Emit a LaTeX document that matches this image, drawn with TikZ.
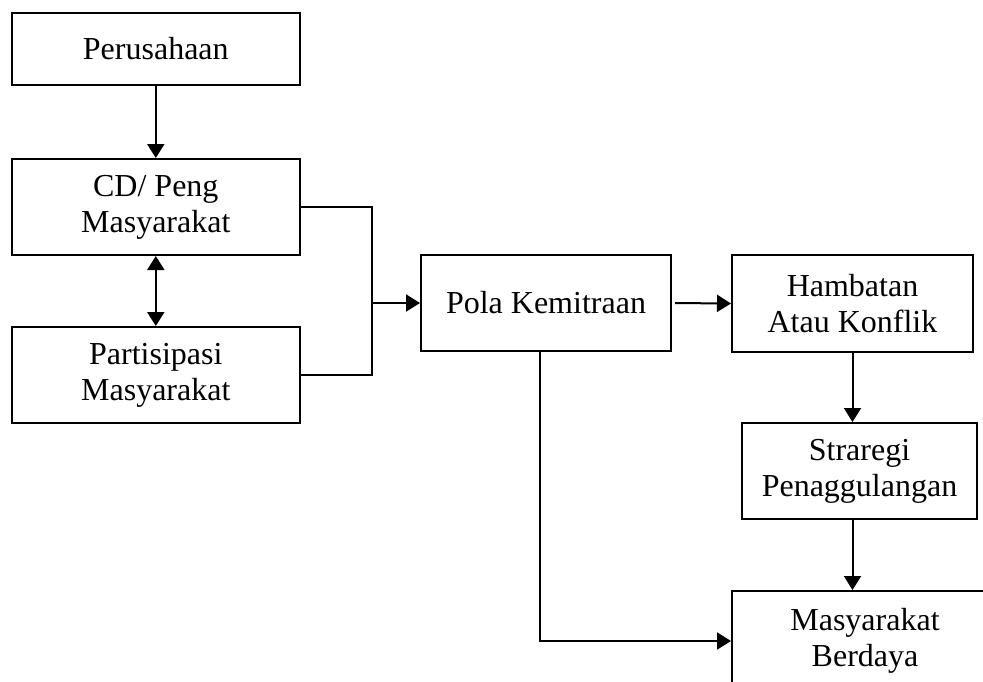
\documentclass[tikz,border=0pt]{standalone}
\usepackage{fontspec}
\setmainfont{Liberation Serif}
\usetikzlibrary{arrows.meta}
\begin{document}
\begin{tikzpicture}[x=1pt,y=-1pt,
  box/.style={draw,line width=2pt,align=center,inner sep=0pt,
    font=\fontsize{32}{36}\selectfont},
  conn/.style={line width=2pt},
  arr/.style={conn,-{Triangle[length=14pt,width=17pt]}},
  darr/.style={conn,{Triangle[length=14pt,width=17pt]}-{Triangle[length=14pt,width=17pt]}}]
\useasboundingbox (0,0) rectangle (983,681);
\clip (0,0) rectangle (983,681);
\node[box,minimum width=288pt,minimum height=72pt] (per) at (155.8,49) {Perusahaan};
\node[box,minimum width=288pt,minimum height=96pt] (cd) at (155.8,207) {CD/ Peng\\Masyarakat};
\node[box,minimum width=288pt,minimum height=96pt] (par) at (155.8,375) {Partisipasi\\Masyarakat};
\node[box,minimum width=250pt,minimum height=96pt] (pola) at (546,303) {Pola Kemitraan};
\node[box,minimum width=241pt,minimum height=97pt] (ham) at (852.5,303.5) {Hambatan\\Atau Konflik};
\node[box,minimum width=235pt,minimum height=96pt] (str) at (859.5,471) {Straregi\\Penaggulangan};
\node[box,minimum width=266pt,minimum height=100pt] (mas) at (865,641) {Masyarakat\\Berdaya};
\coordinate (j) at (372,303);
\coordinate (pb) at (540,351);
\draw[arr] (per.south) -- (cd.north);
\draw[darr] (cd.south) -- (par.north);
\draw[conn] (cd.east) -| (j) |- (par.east);
\draw[arr] (j) -- (pola.west);
\draw[arr,shorten <=3pt] (pola.east) -- (ham.west);
\draw[arr] (ham.south) -- (ham.south |- str.north);
\draw[arr] (str.south -| ham.south) -- (mas.north -| ham.south);
\draw[arr] (pb) |- (mas.west);
\end{tikzpicture}
\end{document}
